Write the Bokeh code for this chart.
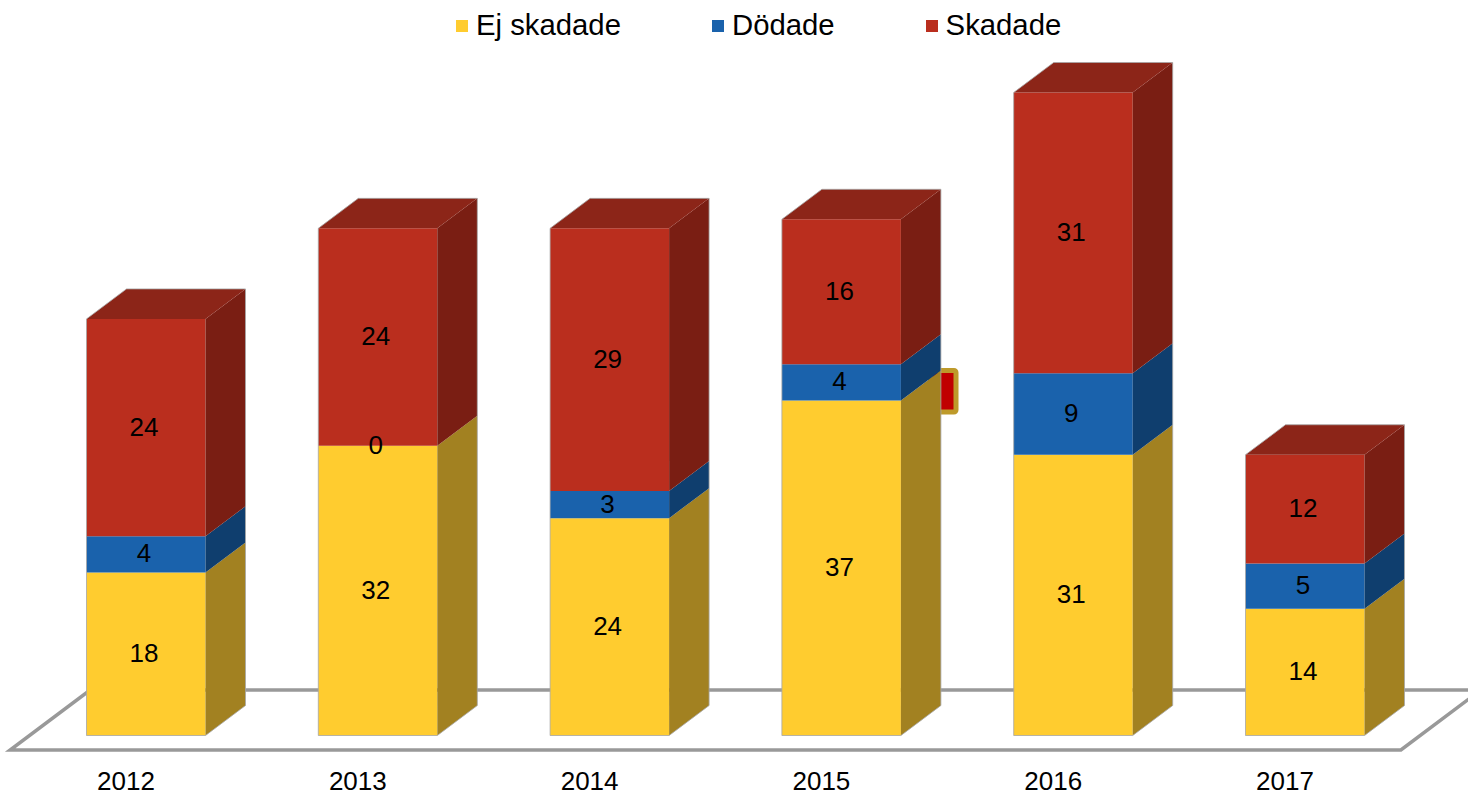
from bokeh.plotting import figure
from bokeh.models import Legend, LegendItem, BoxAnnotation
from bokeh.core.properties import value
from bokeh.embed import file_html
from bokeh.resources import INLINE

years = ["2012", "2013", "2014", "2015", "2016", "2017"]
ej_skadade = [18, 32, 24, 37, 31, 14]
dodade = [4, 0, 3, 4, 9, 5]
skadade = [24, 24, 29, 16, 31, 12]

FONT = "Liberation Sans"
PX_X = 231.8   # pixels per category
PX_Y = 9.056   # pixels per person
DX = 40 / PX_X
DY = 30 / PX_Y
BAR_W = 119 / PX_X
SHIFT = DX / 2

FRAME_W, FRAME_H = 1468, 792
# pixel of category 0 / value 0
X0_PX, Y0_PX = 125.5, 735

p = figure(width=1468, height=792, output_backend="svg", toolbar_location=None,
           x_range=(-X0_PX / PX_X, (FRAME_W - X0_PX) / PX_X),
           y_range=((Y0_PX - FRAME_H) / PX_Y, Y0_PX / PX_Y),
           frame_width=FRAME_W, frame_height=FRAME_H,
           x_axis_location=None, y_axis_location=None, min_border=0, outline_line_color=None,
           background_fill_color="white", border_fill_color="white")
p.grid.visible = False

# stray marker behind the 2015 bar
p.add_layout(BoxAnnotation(left=930, right=955.5, top=422, bottom=380.5,
                           left_units="screen", right_units="screen",
                           top_units="screen", bottom_units="screen",
                           fill_color="#C00000", fill_alpha=1,
                           line_color="#BE9A2A", line_width=5, line_alpha=1,
                           border_radius=2, level="underlay"))

# floor
n = len(years)
f0 = -14.5 / PX_Y
fx = [-0.5, n - 0.5, n - 0.5 + 2 * DX, -0.5 + 2 * DX]
fy = [f0, f0, f0 + 2 * DY, f0 + 2 * DY]
p.patch(fx + fx[:1], fy + fy[:1], fill_color="white", line_color="#999999", line_width=3.5,
        line_join="miter")

# category labels below the floor
p.text(x=list(range(n)), y=[-45 / PX_Y] * n, text=years, text_align="center", text_baseline="middle",
       text_font=value(FONT), text_font_size="26px", text_color="#000000")

series = [
    ("Ej skadade", ej_skadade, "#FFCC2F", "#A28121"),
    ("Dödade", dodade, "#1A62AC", "#0F3E6E"),
    ("Skadade", skadade, "#BA2E1E", "#7A1E13"),
]
TOP_COLOR = "#8C2518"

bottoms = [0] * n
items = []
lab_x, lab_y, lab_t = [], [], []
for name, vals, front, side in series:
    tops = [b + v for b, v in zip(bottoms, vals)]
    xc = [i + SHIFT for i in range(n)]
    r = p.vbar(x=xc, width=BAR_W, bottom=bottoms, top=tops, fill_color=front, line_color=None)
    items.append(LegendItem(label=name, renderers=[r]))
    xs, ys = [], []
    for x, b, t in zip(xc, bottoms, tops):
        x1 = x + BAR_W / 2
        xs.append([x1, x1 + DX, x1 + DX, x1])
        ys.append([b, b + DY, t + DY, t])
    p.patches(xs, ys, fill_color=side, line_color=None)
    lab_x += xc
    lab_y += [(b + t) / 2 for b, t in zip(bottoms, tops)]
    lab_t += [str(v) for v in vals]
    bottoms = tops

totals = bottoms
xc = [i + SHIFT for i in range(n)]
# top faces
p.patches([[x - BAR_W / 2, x - BAR_W / 2 + DX, x + BAR_W / 2 + DX, x + BAR_W / 2] for x in xc],
          [[t, t + DY, t + DY, t] for t in totals], fill_color=TOP_COLOR, line_color=None)
# thin outline round each bar
p.patches([[x - BAR_W / 2, x - BAR_W / 2, x - BAR_W / 2 + DX, x + BAR_W / 2 + DX, x + BAR_W / 2 + DX, x + BAR_W / 2]
           for x in xc],
          [[0, t, t + DY, t + DY, DY, 0] for t in totals],
          fill_alpha=0, line_color="#A6A6A6", line_width=1, line_alpha=0.8)

p.text(x=lab_x, y=lab_y, text=lab_t, text_align="center", text_baseline="middle",
       x_offset=-2, y_offset=-1,
       text_font=value(FONT), text_font_size="26px", text_color="#000000")

legend = Legend(items=items, orientation="horizontal", location=(454, 750),
                spacing=89, margin=0, padding=0, glyph_width=15, glyph_height=15,
                label_standoff=7, border_line_color=None, background_fill_alpha=0,
                label_text_font=FONT, label_text_font_size="29.3px", label_text_color="#000000",
                label_height=30)
p.add_layout(legend, "center")

open("out.html", "w").write(file_html(p, INLINE))
